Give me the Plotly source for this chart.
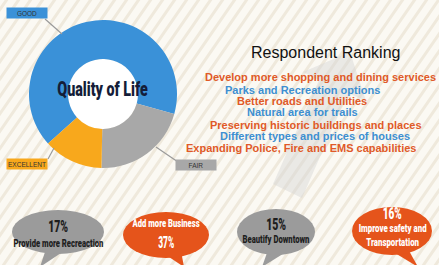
import json
import plotly.graph_objects as go

W, H = 439, 265

# ---- data ----
quality_labels = ["GOOD", "FAIR", "EXCELLENT"]
quality_values = [66, 21, 13]
quality_colors = ["#3a91d8", "#a8a8a8", "#f8a81c"]

ranking_title = "Respondent Ranking"
ranking_items = [
    "Develop more shopping and dining services",
    "Parks and Recreation options",
    "Better roads and Utilities",
    "Natural area for trails",
    "Preserving historic buildings and places",
    "Different types and prices of houses",
    "Expanding Police, Fire and EMS capabilities",
]
ranking_colors = ["#e05a28", "#3d8fd1", "#e05a28", "#3d8fd1", "#e05a28", "#3d8fd1", "#e05a28"]

bubble_pcts = ["17%", "37%", "15%", "16%"]
bubble_texts = ["Provide more Recreaction", "Add more Business", "Beautify Downtown",
                "Improve safety and<br>Transportation"]

COND = "Roboto, Liberation Sans, sans-serif"
SANS = "Liberation Sans, Arial, sans-serif"

# ---- layout helpers (pixel -> paper) ----
def X(p):
    return p / W

def Y(p):
    return 1 - p / H

shapes = []
annotations = []
condensed = {}  # annotation index -> target pixel width

def note(text, x, y, size, color, family, width_px=None, weight=None, **kw):
    font = dict(size=size, color=color, family=family)
    if weight:
        font["weight"] = weight
    if width_px is not None:
        condensed[len(annotations)] = width_px
    annotations.append(dict(text=text, x=X(x), y=Y(y), xref="paper", yref="paper",
                            xanchor="center", yanchor="middle", showarrow=False,
                            font=font, **kw))

# striped background
segs = []
for x0 in range(-300, 460, 12):
    segs.append(f"M {X(x0):.4f},{Y(H+5):.4f} L {X(x0+190):.4f},{Y(-5):.4f}")
shapes.append(dict(type="path", path=" ".join(segs), xref="paper", yref="paper",
                   line=dict(color="#efe9dc", width=3), layer="below"))

# faint arrow behind ranking list
arrow_pts = [(273, 184), (302, 198), (348, 93), (366, 101), (350, 52), (303, 72), (319, 80)]
path = "M " + " L ".join(f"{X(a):.4f},{Y(b):.4f}" for a, b in arrow_pts) + " Z"
shapes.append(dict(type="path", path=path, xref="paper", yref="paper",
                   fillcolor="#d4d4d4", opacity=0.45, line=dict(width=0), layer="below"))

# white hole of donut
cx, cy, R, r = 103, 94, 74, 35
shapes.append(dict(type="circle", xref="paper", yref="paper",
                   x0=X(cx-r), x1=X(cx+r), y0=Y(cy+r), y1=Y(cy-r),
                   fillcolor="white", line=dict(width=0), layer="below"))

# donut label boxes + leader lines
label_boxes = {"GOOD": (27, 13), "FAIR": (196, 165), "EXCELLENT": (27, 164)}
leaders = {"GOOD": ((45, 19), (62, 34)), "FAIR": ((156, 147), (178, 162)), "EXCELLENT": ((48, 159), (54, 148))}
for lab, col in zip(quality_labels, quality_colors):
    (a, b), (c, d) = leaders[lab]
    shapes.append(dict(type="line", xref="paper", yref="paper", x0=X(a), y0=Y(b), x1=X(c), y1=Y(d),
                       line=dict(color="#9a9a9a", width=1.2)))
    bx, by = label_boxes[lab]
    note(lab, bx, by, 6.5, "#333333", SANS, bgcolor=col, width=40, height=10, borderpad=0)

# center text
note("Quality of Life", cx, 89, 21, "#141d38", COND, width_px=91, weight=900)

# ranking title and items
note(ranking_title, 325, 53, 16, "#111111", SANS)
rank_x = [320, 302, 302, 302, 316, 315, 301]
rank_y = [77, 90, 101, 112, 125, 136, 148]
for item, col, xx, yy in zip(ranking_items, ranking_colors, rank_x, rank_y):
    note(f"<b>{item}</b>", xx, yy, 11, col, SANS)

# speech bubbles
bubble_colors = ["#9b9b9b", "#e5541b", "#9b9b9b", "#e5541b"]
bubble_txtcol = ["#1e1e1e", "#ffffff", "#1e1e1e", "#ffffff"]
bubble_geom = [(58, 232, 46, 22), (166, 235, 43, 23), (276, 232, 39, 23), (392, 231, 40, 24)]
bubble_tails = [
    [(46, 249), (64, 251), (40, 267)],
    [(163, 253), (181, 251), (184, 267)],
    [(268, 250), (286, 252), (262, 267)],
    [(390, 250), (408, 249), (418, 267)],
]
pct_y = [226, 242, 224, 213]
txt_y = [243, 223, 239, 235]
pct_w = [20, 16, 20, 19]
txt_w = [90, 68, 67, 68]
for i in range(4):
    bx, by, rx, ry = bubble_geom[i]
    tail = bubble_tails[i]
    tp = "M " + " L ".join(f"{X(a):.4f},{Y(b):.4f}" for a, b in tail) + " Z"
    shapes.append(dict(type="path", path=tp, xref="paper", yref="paper",
                       fillcolor=bubble_colors[i], line=dict(width=0), layer="below"))
    shapes.append(dict(type="circle", xref="paper", yref="paper",
                       x0=X(bx-rx), x1=X(bx+rx), y0=Y(by+ry), y1=Y(by-ry),
                       fillcolor=bubble_colors[i], line=dict(width=0), layer="below"))
    note(bubble_pcts[i], bx, pct_y[i], 17, bubble_txtcol[i], COND, width_px=pct_w[i], weight=900)
    note(bubble_texts[i], bx, txt_y[i], 11, bubble_txtcol[i], COND, width_px=txt_w[i], weight=900)

fig = go.Figure(go.Pie(
    labels=quality_labels, values=quality_values, sort=False, direction="clockwise",
    rotation=228, hole=r / R, marker=dict(colors=quality_colors, line=dict(width=0)),
    textinfo="none", hoverinfo="label+value",
    domain=dict(x=[X(cx-R), X(cx+R)], y=[Y(cy+R), Y(cy-R)]),
))
fig.update_layout(
    width=W, height=H, margin=dict(l=0, r=0, t=0, b=0),
    paper_bgcolor="#fbf9f3", plot_bgcolor="#fbf9f3", showlegend=False,
    shapes=shapes, annotations=annotations,
)

js = """
document.body.style.margin='0';document.body.style.overflow='hidden';
var cond = %s;
var gd = document.getElementById('{plot_id}');
Object.keys(cond).forEach(function(i){
  var el = gd.querySelector('g.annotation[data-index="'+i+'"] text.annotation-text');
  if(!el) return;
  var w = el.getBBox().width;
  if(!w) return;
  el.style.transformBox='fill-box';
  el.style.transformOrigin='center';
  el.style.transform='scaleX('+(cond[i]/w)+')';
});
""" % json.dumps({str(k): v for k, v in condensed.items()})

fig.write_html("out.html", config={"displayModeBar": False}, post_script=js)
